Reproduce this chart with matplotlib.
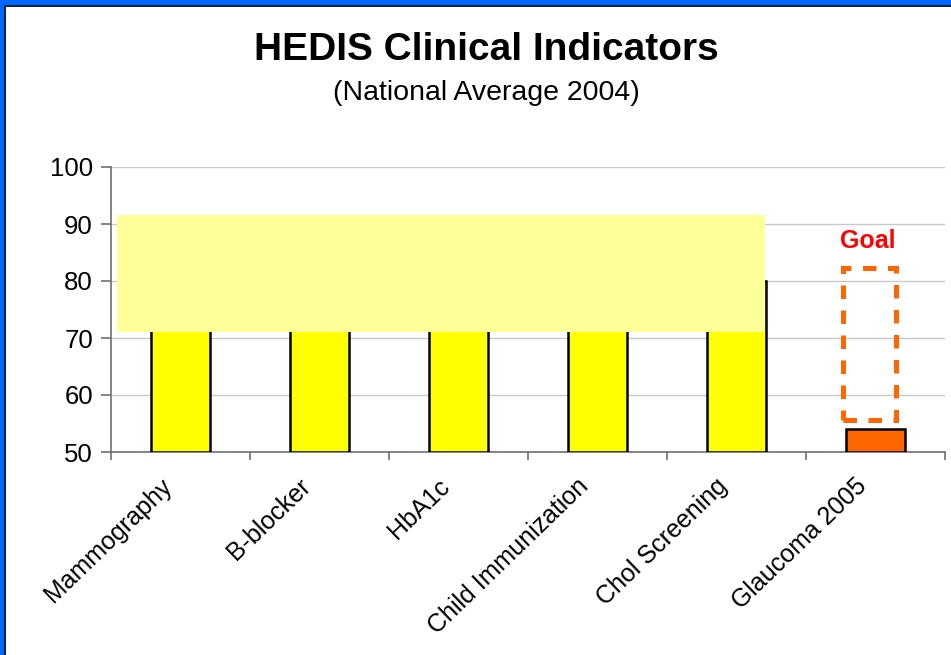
import matplotlib
matplotlib.use("Agg")
import matplotlib.pyplot as plt
from matplotlib.patches import Rectangle

# ---- data ----
categories = ["Mammography", "B-blocker", "HbA1c", "Child Immunization",
              "Chol Screening", "Glaucoma 2005"]
values = [74, 86, 87, 73, 80, 54]
bar_colors = ["#FFFF00", "#FFFF00", "#FFFF00", "#FFFF00", "#FFFF00", "#FF6600"]
highlight_low, highlight_high = 71, 91.6      # pale band covering 2004 bars
goal_low, goal_high = 55.6, 82.3              # dashed goal box for glaucoma
yticks = [50, 60, 70, 80, 90, 100]

plt.rcParams['font.family'] = ['Liberation Sans', 'DejaVu Sans']

W, H = 951, 655
fig = plt.figure(figsize=(W / 100, H / 100), dpi=100)
fig.patch.set_facecolor("white")

# blue frame (top and left edges)
fig.patches.append(Rectangle((0, 1 - 5 / H), 1, 5 / H, transform=fig.transFigure,
                             facecolor="#0066FF", edgecolor="none", zorder=0))
fig.patches.append(Rectangle((0, 1 - 6.5 / H), 1, 1.5 / H, transform=fig.transFigure,
                             facecolor="#1a2040", edgecolor="none", zorder=0))
fig.patches.append(Rectangle((0, 0), 4 / W, 1, transform=fig.transFigure,
                             facecolor="#0066FF", edgecolor="none", zorder=0))
fig.patches.append(Rectangle((4 / W, 0), 1.5 / W, 1 - 5 / H, transform=fig.transFigure,
                             facecolor="#1a2040", edgecolor="none", zorder=0))

ax = fig.add_axes([111 / W, 1 - 452 / H, (945 - 111) / W, (452 - 167) / H])
x = list(range(len(categories)))
ax.bar(x, [v - 50 for v in values], bottom=50, width=0.42, color=bar_colors,
       edgecolor="black", linewidth=1.8, zorder=3)

ax.set_xlim(-0.5, len(categories) - 0.5)
ax.set_ylim(50, 100)
ax.set_yticks(yticks)
ax.yaxis.grid(True, color="#C8C8C8", linewidth=1.0, zorder=0)
ax.set_axisbelow(True)

for s in ["top", "right"]:
    ax.spines[s].set_visible(False)
for s in ["left", "bottom"]:
    ax.spines[s].set_color("#707070")
    ax.spines[s].set_linewidth(1.2)

ax.tick_params(axis="y", labelsize=18.5, length=7, width=1.2, color="#707070",
               direction="out", pad=6)
# x ticks at category boundaries
ax.set_xticks([i - 0.5 for i in range(len(categories) + 1)])
ax.set_xticklabels([""] * (len(categories) + 1))
ax.tick_params(axis="x", length=6, width=1.2, color="#707070", direction="out")
ax.set_xticks([i - 0.15 for i in x], minor=True)
ax.set_xticklabels(categories, minor=True, rotation=44, ha="right",
                   rotation_mode="anchor", fontsize=18)
ax.tick_params(axis="x", which="minor", length=0, pad=16)

# pale highlight band over 2004 bars
ax.add_patch(Rectangle((-0.457, highlight_low), 4.205 + 0.457,
                       highlight_high - highlight_low,
                       facecolor="#FFFF99", edgecolor="none", zorder=4))

# dashed goal box
gx = 5 - 0.043
gw = 0.38
ax.add_patch(Rectangle((gx - gw / 2, goal_low), gw, goal_high - goal_low,
                       facecolor="none", edgecolor="#FF6600", linewidth=3.6,
                       linestyle=(0, (2.7, 2.3)), zorder=5))
ax.text(gx - 0.01, 87, "Goal", color="#FF0000", fontsize=18, fontweight="bold",
        ha="center", va="center", zorder=6)

fig.text(486 / W, 1 - 50 / H, "HEDIS Clinical Indicators", fontsize=28,
         fontweight="bold", ha="center", va="center")
fig.text(486 / W, 1 - 93 / H, "(National Average 2004)", fontsize=20.5,
         ha="center", va="center")

fig.savefig("out.png", dpi=100)
